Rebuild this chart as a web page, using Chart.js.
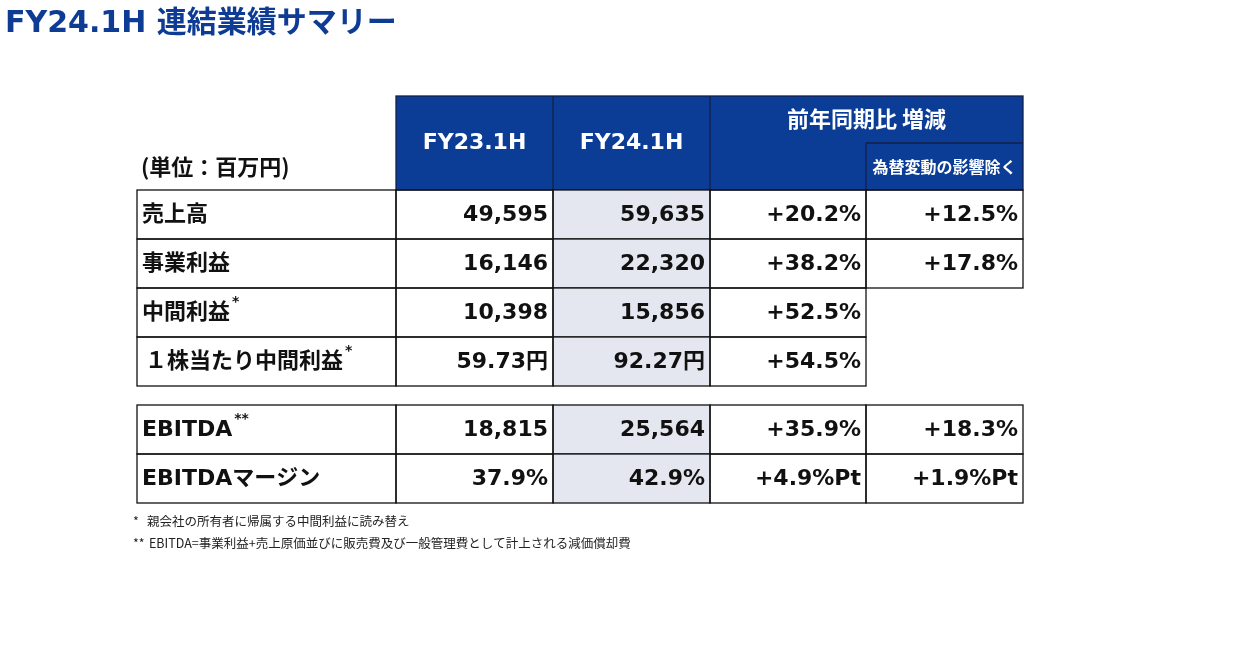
<!DOCTYPE html>
<html>
<head>
<meta charset="utf-8">
<script src="https://cdn.jsdelivr.net/npm/chart.js@4"></script>
<style>
  body { margin: 0; background: #fff; }
  #wrap { width: 1251px; height: 657px; position: relative; }
</style>
</head>
<body>
<div id="wrap"><canvas id="summary"></canvas></div>
<script>
// table contents
const title = "FY24.1H 連結業績サマリー";
const unitLabel = "(単位：百万円)";
const colHeaders = ["FY23.1H", "FY24.1H", "前年同期比 増減"];
const subHeader = "為替変動の影響除く";
const rowLabels = ["売上高", "事業利益", "中間利益", "１株当たり中間利益", "EBITDA", "EBITDAマージン"];
const rowMarks = ["", "", "*", "*", "**", ""];
const fy23 = [49595, 16146, 10398, 59.73, 18815, 37.9];
const fy24 = [59635, 22320, 15856, 92.27, 25564, 42.9];
const yoy = [20.2, 38.2, 52.5, 54.5, 35.9, 4.9];
const yoyExFx = [12.5, 17.8, null, null, 18.3, 1.9];
const valueUnits = ["", "", "", "円", "", "%"];
const changeUnits = ["%", "%", "%", "%", "%", "%Pt"];
const footnotes = [
  ["*", "親会社の所有者に帰属する中間利益に読み替え"],
  ["**", "EBITDA=事業利益+売上原価並びに販売費及び一般管理費として計上される減価償却費"],
];

// layout (page pixel units, mapped through the scales)
const colEdges = [137, 396, 553, 710, 866, 1023];
const headTop = 96, headMid = 143, headBot = 190;
const rowTops = [190, 239, 288, 337, 405, 454];
const rowH = 49;

const BLUE = "#0b3d96";
const GRAY = "#e4e7ef";
const LATIN = '"DejaVu Sans", "Noto Sans CJK JP", sans-serif';
const CJK = '"Noto Sans CJK JP", "DejaVu Sans", sans-serif';

let fmtValue = (v, unit) => {
  if (unit === "") return v.toLocaleString("en-US");
  return (unit === "円" ? v.toFixed(2) : v.toFixed(1)) + unit;
};
let fmtChange = (v, unit) => (v >= 0 ? "+" : "") + v.toFixed(1) + unit;

const tablePlugin = {
  id: "tablePlugin",
  afterDraw(chart) {
    const ctx = chart.ctx;
    const X = (v) => chart.scales.x.getPixelForValue(v);
    const Y = (v) => chart.scales.y.getPixelForValue(v);
    const rect = (x0, y0, x1, y1) => [X(x0), Y(y0), X(x1) - X(x0), Y(y1) - Y(y0)];

    ctx.save();

    // title
    ctx.fillStyle = "#0e3c94";
    ctx.textBaseline = "middle";
    ctx.textAlign = "left";
    ctx.font = "bold 30px " + LATIN;
    ctx.fillText(title, X(5), Y(24));

    // header block
    ctx.fillStyle = BLUE;
    ctx.fillRect(...rect(colEdges[1], headTop, colEdges[5], headBot));
    ctx.strokeStyle = "#14204a";
    ctx.lineWidth = 1.3;
    ctx.strokeRect(...rect(colEdges[1], headTop, colEdges[5], headBot));
    ctx.beginPath();
    [colEdges[2], colEdges[3]].forEach((c) => {
      ctx.moveTo(X(c), Y(headTop));
      ctx.lineTo(X(c), Y(headBot));
    });
    ctx.moveTo(X(colEdges[4]), Y(headMid));
    ctx.lineTo(X(colEdges[4]), Y(headBot));
    ctx.moveTo(X(colEdges[4]), Y(headMid));
    ctx.lineTo(X(colEdges[5]), Y(headMid));
    ctx.stroke();

    ctx.fillStyle = "#fff";
    ctx.textAlign = "center";
    ctx.font = "bold 22px " + LATIN;
    ctx.fillText(colHeaders[0], X((colEdges[1] + colEdges[2]) / 2), Y(headMid));
    ctx.fillText(colHeaders[1], X((colEdges[2] + colEdges[3]) / 2), Y(headMid));
    ctx.font = "bold 22px " + CJK;
    ctx.fillText(colHeaders[2], X((colEdges[3] + colEdges[5]) / 2), Y(119));
    ctx.font = "bold 16px " + CJK;
    ctx.fillText(subHeader, X((colEdges[4] + colEdges[5]) / 2), Y(167), X(colEdges[5]) - X(colEdges[4]) - 6);

    ctx.fillStyle = "#111";
    ctx.textAlign = "left";
    ctx.font = "bold 22px " + CJK;
    ctx.fillText(unitLabel, X(141), Y(167));

    // body rows
    rowLabels.forEach((label, i) => {
      const top = rowTops[i], bot = top + rowH, mid = top + rowH / 2 + 1;
      const nCols = yoyExFx[i] === null ? 4 : 5;

      ctx.fillStyle = GRAY;
      ctx.fillRect(...rect(colEdges[2], top, colEdges[3], bot));

      ctx.strokeStyle = "#111";
      ctx.lineWidth = 1.3;
      for (let c = 0; c < nCols; c++) {
        ctx.strokeRect(...rect(colEdges[c], top, colEdges[c + 1], bot));
      }

      ctx.fillStyle = "#111";
      ctx.textAlign = "left";
      ctx.font = "bold 22px " + LATIN;
      const lx = X(label.startsWith("１") ? 145 : 142);
      ctx.fillText(label, lx, Y(mid));
      if (rowMarks[i]) {
        const w = ctx.measureText(label).width;
        ctx.font = "bold 14px " + LATIN;
        ctx.fillText(rowMarks[i], lx + w + 2, Y(mid - 11));
      }

      ctx.textAlign = "right";
      ctx.font = "bold 22px " + LATIN;
      const cells = [
        fmtValue(fy23[i], valueUnits[i]),
        fmtValue(fy24[i], valueUnits[i]),
        fmtChange(yoy[i], changeUnits[i]),
        yoyExFx[i] === null ? "" : fmtChange(yoyExFx[i], changeUnits[i]),
      ];
      cells.forEach((t, c) => {
        if (t) ctx.fillText(t, X(colEdges[c + 2] - 5), Y(mid));
      });
    });

    // footnotes
    ctx.textAlign = "left";
    ctx.fillStyle = "#222";
    ctx.font = "12.5px " + CJK;
    footnotes.forEach(([mark, text], i) => {
      const y = 521 + i * 22;
      ctx.fillText(mark, X(133), Y(y));
      ctx.fillText(text, X(mark.length > 1 ? 149 : 147), Y(y));
    });

    ctx.restore();
  },
};

const canvas = document.getElementById("summary");
const myChart = new Chart(canvas.getContext("2d"), {
  type: "bar",
  data: {
    labels: rowLabels,
    datasets: [{ label: "FY24.1H", data: [] }],
  },
  options: {
    responsive: true,
    maintainAspectRatio: false,
    animation: false,
    layout: { padding: 0 },
    plugins: { legend: { display: false }, tooltip: { enabled: false } },
    scales: {
      x: { type: "linear", min: 0, max: 1251, offset: false, display: false },
      y: { type: "linear", min: 0, max: 657, reverse: true, offset: false, display: false },
    },
  },
  plugins: [tablePlugin],
});
</script>
</body>
</html>
